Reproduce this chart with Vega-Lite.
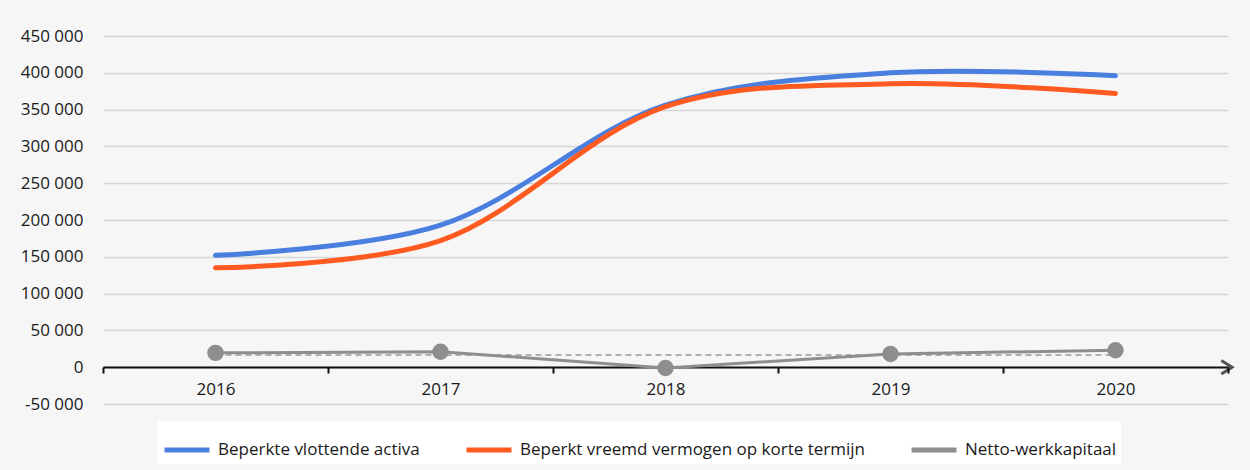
{
  "$schema": "https://vega.github.io/schema/vega-lite/v6.json",
  "width": 1125,
  "height": 368,
  "autosize": {"type": "none"},
  "padding": {"left": 103, "top": 36, "right": 22, "bottom": 66},
  "background": "#f6f6f6",
  "config": {"view": {"stroke": null}, "font": "Open Sans"},
  "datasets": {
    "series": [
      {"year": "2016", "series": "Beperkte vlottende activa", "value": 152000},
      {"year": "2017", "series": "Beperkte vlottende activa", "value": 193000},
      {"year": "2018", "series": "Beperkte vlottende activa", "value": 356000},
      {"year": "2019", "series": "Beperkte vlottende activa", "value": 400000},
      {"year": "2020", "series": "Beperkte vlottende activa", "value": 396000},
      {"year": "2016", "series": "Beperkt vreemd vermogen op korte termijn", "value": 135000},
      {"year": "2017", "series": "Beperkt vreemd vermogen op korte termijn", "value": 172000},
      {"year": "2018", "series": "Beperkt vreemd vermogen op korte termijn", "value": 354000},
      {"year": "2019", "series": "Beperkt vreemd vermogen op korte termijn", "value": 385000},
      {"year": "2020", "series": "Beperkt vreemd vermogen op korte termijn", "value": 372000},
      {"year": "2016", "series": "Netto-werkkapitaal", "value": 19500},
      {"year": "2017", "series": "Netto-werkkapitaal", "value": 21000},
      {"year": "2018", "series": "Netto-werkkapitaal", "value": -1000},
      {"year": "2019", "series": "Netto-werkkapitaal", "value": 18000},
      {"year": "2020", "series": "Netto-werkkapitaal", "value": 23000}
    ],
    "trend": [
      {"year": "2016", "value": 16500},
      {"year": "2017", "value": 16500},
      {"year": "2018", "value": 16500},
      {"year": "2019", "value": 16500},
      {"year": "2020", "value": 16500}
    ],
    "arrow": [{"year": "2020", "value": 0}]
  },
  "encoding": {
    "x": {
      "field": "year",
      "type": "ordinal",
      "scale": {"type": "band", "paddingInner": 0, "paddingOuter": 0},
      "axis": {
        "title": null,
        "offset": -37,
        "domainColor": "#111",
        "domainWidth": 2,
        "tickColor": "#111",
        "tickWidth": 2,
        "tickSize": 6,
        "tickBand": "extent",
        "labelAngle": 0,
        "labelFontSize": 17,
        "labelColor": "#1a1a1a",
        "labelPadding": 8,
        "grid": false
      }
    },
    "y": {
      "field": "value",
      "type": "quantitative",
      "scale": {"domain": [-50000, 450000], "nice": false},
      "axis": {
        "title": null,
        "values": [-50000, 0, 50000, 100000, 150000, 200000, 250000, 300000, 350000, 400000, 450000],
        "labelExpr": "replace(replace(format(datum.value, ','), ',', ' '), '−', '-')",
        "grid": true,
        "gridColor": "#d6d6d6",
        "gridWidth": 1.5,
        "domain": false,
        "ticks": false,
        "labelPadding": 20,
        "labelFontSize": 17,
        "labelColor": "#1a1a1a"
      }
    }
  },
  "layer": [
    {
      "data": {"name": "trend"},
      "mark": {"type": "line", "strokeDash": [6, 4], "color": "#b0b0b0", "strokeWidth": 2},
      "encoding": {}
    },
    {
      "data": {"name": "series"},
      "transform": [{"filter": "datum.series != 'Netto-werkkapitaal'"}],
      "mark": {"type": "line", "interpolate": "catmull-rom", "strokeWidth": 5, "strokeCap": "round"},
      "encoding": {
        "color": {
          "field": "series",
          "type": "nominal",
          "scale": {
            "domain": ["Beperkte vlottende activa", "Beperkt vreemd vermogen op korte termijn", "Netto-werkkapitaal"],
            "range": ["#4a7fe0", "#ff5b21", "#8e8e8e"]
          },
          "legend": {
            "orient": "none",
            "legendX": 55,
            "legendY": 385,
            "direction": "horizontal",
            "title": null,
            "fillColor": "white",
            "padding": 4,
            "symbolType": "stroke",
            "symbolStrokeWidth": 5,
            "symbolSize": 2025,
            "labelFontSize": 17,
            "labelOffset": 6,
            "labelColor": "#1a1a1a",
            "columnPadding": 36,
            "labelLimit": 0
          }
        }
      }
    },
    {
      "data": {"name": "series"},
      "transform": [{"filter": "datum.series == 'Netto-werkkapitaal'"}],
      "mark": {"type": "line", "strokeWidth": 3, "point": {"filled": true, "size": 270}},
      "encoding": {
        "color": {
          "field": "series",
          "type": "nominal",
          "legend": {
            "orient": "none",
            "legendX": 55,
            "legendY": 385,
            "direction": "horizontal",
            "title": null,
            "fillColor": "white",
            "padding": 4,
            "symbolType": "stroke",
            "symbolStrokeWidth": 5,
            "symbolSize": 2025,
            "labelFontSize": 17,
            "labelOffset": 6,
            "labelColor": "#1a1a1a",
            "columnPadding": 36,
            "labelLimit": 0
          }
        }
      }
    },
    {
      "data": {"name": "arrow"},
      "mark": {"type": "point", "shape": "M-1,-1L0.6,0L-1,1", "filled": false, "stroke": "#111", "strokeWidth": 3, "size": 180},
      "encoding": {
        "x": {"field": "year", "type": "ordinal", "bandPosition": 1},
        "y": {"field": "value", "type": "quantitative"}
      }
    }
  ]
}
